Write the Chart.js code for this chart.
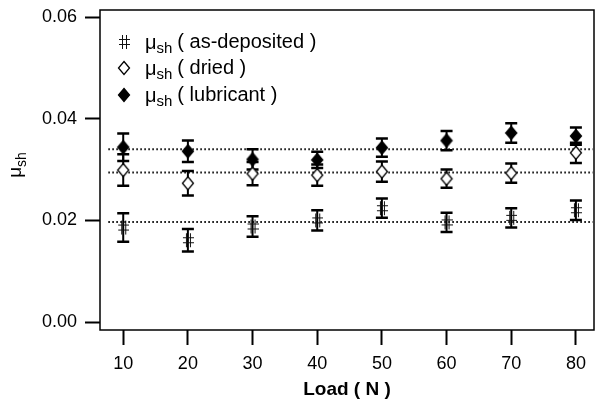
<!DOCTYPE html>
<html lang="en">
  <head>
    <meta charset="UTF-8" />
    <title>Friction coefficient vs load</title>
    <script src="https://cdn.jsdelivr.net/npm/chart.js@4.4.1/dist/chart.umd.min.js"></script>
    <style>
      body { margin: 0; background: #fff; }
      #wrap { width: 599px; height: 402px; }
    </style>
  </head>
  <body>
    <div id="wrap"><canvas id="muChart"></canvas></div>

    <script>
      // data
      const loads = [10, 20, 30, 40, 50, 60, 70, 80];

      const asDeposited = [0.0186, 0.0161, 0.0188, 0.0200, 0.0224, 0.0196, 0.0205, 0.0220];
      const asDepositedErr = [0.0028, 0.0022, 0.0020, 0.0020, 0.0019, 0.0019, 0.0019, 0.0019];

      const dried = [0.0299, 0.0273, 0.0292, 0.0289, 0.0296, 0.0282, 0.0293, 0.0333];
      const driedErr = [0.0031, 0.0024, 0.0023, 0.0021, 0.0020, 0.0018, 0.0019, 0.0020];

      const lubricant = [0.0344, 0.0336, 0.0320, 0.0319, 0.0343, 0.0357, 0.0372, 0.0366];
      const lubricantErr = [0.0027, 0.0021, 0.0020, 0.0016, 0.0018, 0.0019, 0.0019, 0.0017];

      // mean levels (dotted lines) and their x span
      const meanLevels = [0.0340, 0.0294, 0.0197];
      const meanSpan = [7.7, 82.6];

      const yTicks = [0.00, 0.02, 0.04, 0.06];
      const xTicks = [10, 20, 30, 40, 50, 60, 70, 80];

      const legendNames = ["( as-deposited )", "( dried )", "( lubricant )"];

      const FONT = "'Liberation Sans', Arial, sans-serif";

      // "#" marker as a small canvas
      function makeHash() {
        const c = document.createElement("canvas");
        c.width = 12;
        c.height = 16;
        const g = c.getContext("2d");
        g.strokeStyle = "#111";
        g.lineWidth = 1;
        g.beginPath();
        g.moveTo(4.5, 1); g.lineTo(4.5, 15);
        g.moveTo(8.5, 1); g.lineTo(8.5, 15);
        g.moveTo(1, 5.5); g.lineTo(12, 5.5);
        g.moveTo(1, 10.5); g.lineTo(12, 10.5);
        g.stroke();
        return c;
      }
      const hashMark = makeHash();

      function diamond(g, x, y, filled) {
        g.save();
        g.beginPath();
        g.moveTo(x, y - 6.5);
        g.lineTo(x + 5.5, y);
        g.lineTo(x, y + 6.5);
        g.lineTo(x - 5.5, y);
        g.closePath();
        g.fillStyle = filled ? "#000" : "#fff";
        g.fill();
        g.lineWidth = 1.3;
        g.strokeStyle = "#000";
        g.stroke();
        g.restore();
      }

      function diamondCanvas(filled) {
        const c = document.createElement("canvas");
        c.width = 14;
        c.height = 16;
        diamond(c.getContext("2d"), 7, 8, filled);
        return c;
      }
      const openDiamond = diamondCanvas(false);
      const fullDiamond = diamondCanvas(true);

      function pts(ys) {
        return loads.map((x, i) => ({ x: x, y: ys[i] }));
      }

      const errorSets = [asDepositedErr, driedErr, lubricantErr];

      const errorBars = {
        id: "errorBars",
        beforeDatasetsDraw(chart) {
          const g = chart.ctx;
          const xs = chart.scales.x;
          const ys = chart.scales.y;
          g.save();
          g.strokeStyle = "#000";
          [asDeposited, dried, lubricant].forEach((series, k) => {
            const err = errorSets[k];
            series.forEach((v, i) => {
              const px = xs.getPixelForValue(loads[i]);
              const top = ys.getPixelForValue(v + err[i]);
              const bot = ys.getPixelForValue(v - err[i]);
              g.lineWidth = 2;
              g.beginPath();
              g.moveTo(px, top);
              g.lineTo(px, bot);
              g.stroke();
              g.lineWidth = 2.5;
              g.beginPath();
              g.moveTo(px - 6, top);
              g.lineTo(px + 6, top);
              g.moveTo(px - 6, bot);
              g.lineTo(px + 6, bot);
              g.stroke();
            });
          });
          g.restore();
        },
      };

      const frameAndText = {
        id: "frameAndText",
        afterDraw(chart) {
          const g = chart.ctx;
          const a = chart.chartArea;
          g.save();
          g.strokeStyle = "#000";
          g.lineWidth = 1.5;
          g.strokeRect(a.left, a.top, a.right - a.left, a.bottom - a.top);

          // legend
          const marks = [hashMark, openDiamond, fullDiamond];
          const rowY = [42, 68, 95];
          g.fillStyle = "#000";
          g.textBaseline = "middle";
          rowY.forEach((y, i) => {
            const m = marks[i];
            g.drawImage(m, 124 - m.width / 2, y - m.height / 2);
            g.font = "20px " + FONT;
            g.textAlign = "left";
            g.fillText("\u03bc", 145, y + 1);
            const mw = g.measureText("\u03bc").width;
            g.font = "15px " + FONT;
            g.fillText("sh", 145 + mw, y + 7);
            const sw = g.measureText("sh").width;
            g.font = "20px " + FONT;
            g.fillText(legendNames[i], 145 + mw + sw + 5, y);
          });

          // y title with subscript
          g.translate(16, 165);
          g.rotate(-Math.PI / 2);
          g.textAlign = "left";
          g.font = "19px " + FONT;
          const w1 = g.measureText("\u03bc").width;
          g.font = "14px " + FONT;
          const w2 = g.measureText("sh").width;
          const start = -(w1 + w2) / 2;
          g.font = "19px " + FONT;
          g.fillText("\u03bc", start, 0);
          g.font = "14px " + FONT;
          g.fillText("sh", start + w1, 6);
          g.restore();
        },
      };

      const datasets = [
        {
          label: "as-deposited",
          data: pts(asDeposited),
          pointStyle: hashMark,
          showLine: false,
          order: 1,
        },
        {
          label: "dried",
          data: pts(dried),
          pointStyle: openDiamond,
          showLine: false,
          order: 1,
        },
        {
          label: "lubricant",
          data: pts(lubricant),
          pointStyle: fullDiamond,
          showLine: false,
          order: 1,
        },
      ];

      meanLevels.forEach((m) => {
        datasets.push({
          label: "mean",
          data: [{ x: meanSpan[0], y: m }, { x: meanSpan[1], y: m }],
          showLine: true,
          borderColor: "#000",
          borderWidth: 2,
          borderDash: [1.5, 2.5],
          pointRadius: 0,
          order: 2,
        });
      });

      const muChart = new Chart(document.getElementById("muChart"), {
        type: "scatter",
        data: { datasets: datasets },
        options: {
          responsive: true,
          maintainAspectRatio: false,
          animation: false,
          layout: { padding: { top: 10, right: 2, left: 0, bottom: 0 } },
          plugins: {
            legend: { display: false },
            tooltip: { enabled: false },
          },
          scales: {
            x: {
              type: "linear",
              min: 6.41,
              max: 82.8,
              afterBuildTicks: (s) => { s.ticks = xTicks.map((v) => ({ value: v })); },
              afterFit: (s) => {
                s.height = 72;
                s.paddingLeft = 0;
                s.paddingRight = 0;
              },
              grid: {
                drawOnChartArea: false,
                tickLength: 15,
                tickWidth: 2,
                tickColor: "#000",
              },
              border: { display: false },
              ticks: {
                color: "#000",
                padding: 8,
                font: { family: FONT, size: 18 },
                callback: (v) => String(v),
              },
              title: {
                display: true,
                text: "Load ( N )",
                color: "#000",
                padding: { top: 0, bottom: 1 },
                font: { family: FONT, size: 19, weight: "bold" },
              },
            },
            y: {
              type: "linear",
              min: -0.00157,
              max: 0.0614,
              afterBuildTicks: (s) => { s.ticks = yTicks.map((v) => ({ value: v })); },
              afterFit: (s) => {
                s.width = 100;
                s.paddingTop = 0;
                s.paddingBottom = 0;
              },
              grid: {
                drawOnChartArea: false,
                tickLength: 15,
                tickWidth: 2,
                tickColor: "#000",
              },
              border: { display: false },
              ticks: {
                color: "#000",
                padding: 8,
                font: { family: FONT, size: 18 },
                callback: (v) => v.toFixed(2),
              },
            },
          },
        },
        plugins: [errorBars, frameAndText],
      });
    </script>
  </body>
</html>
